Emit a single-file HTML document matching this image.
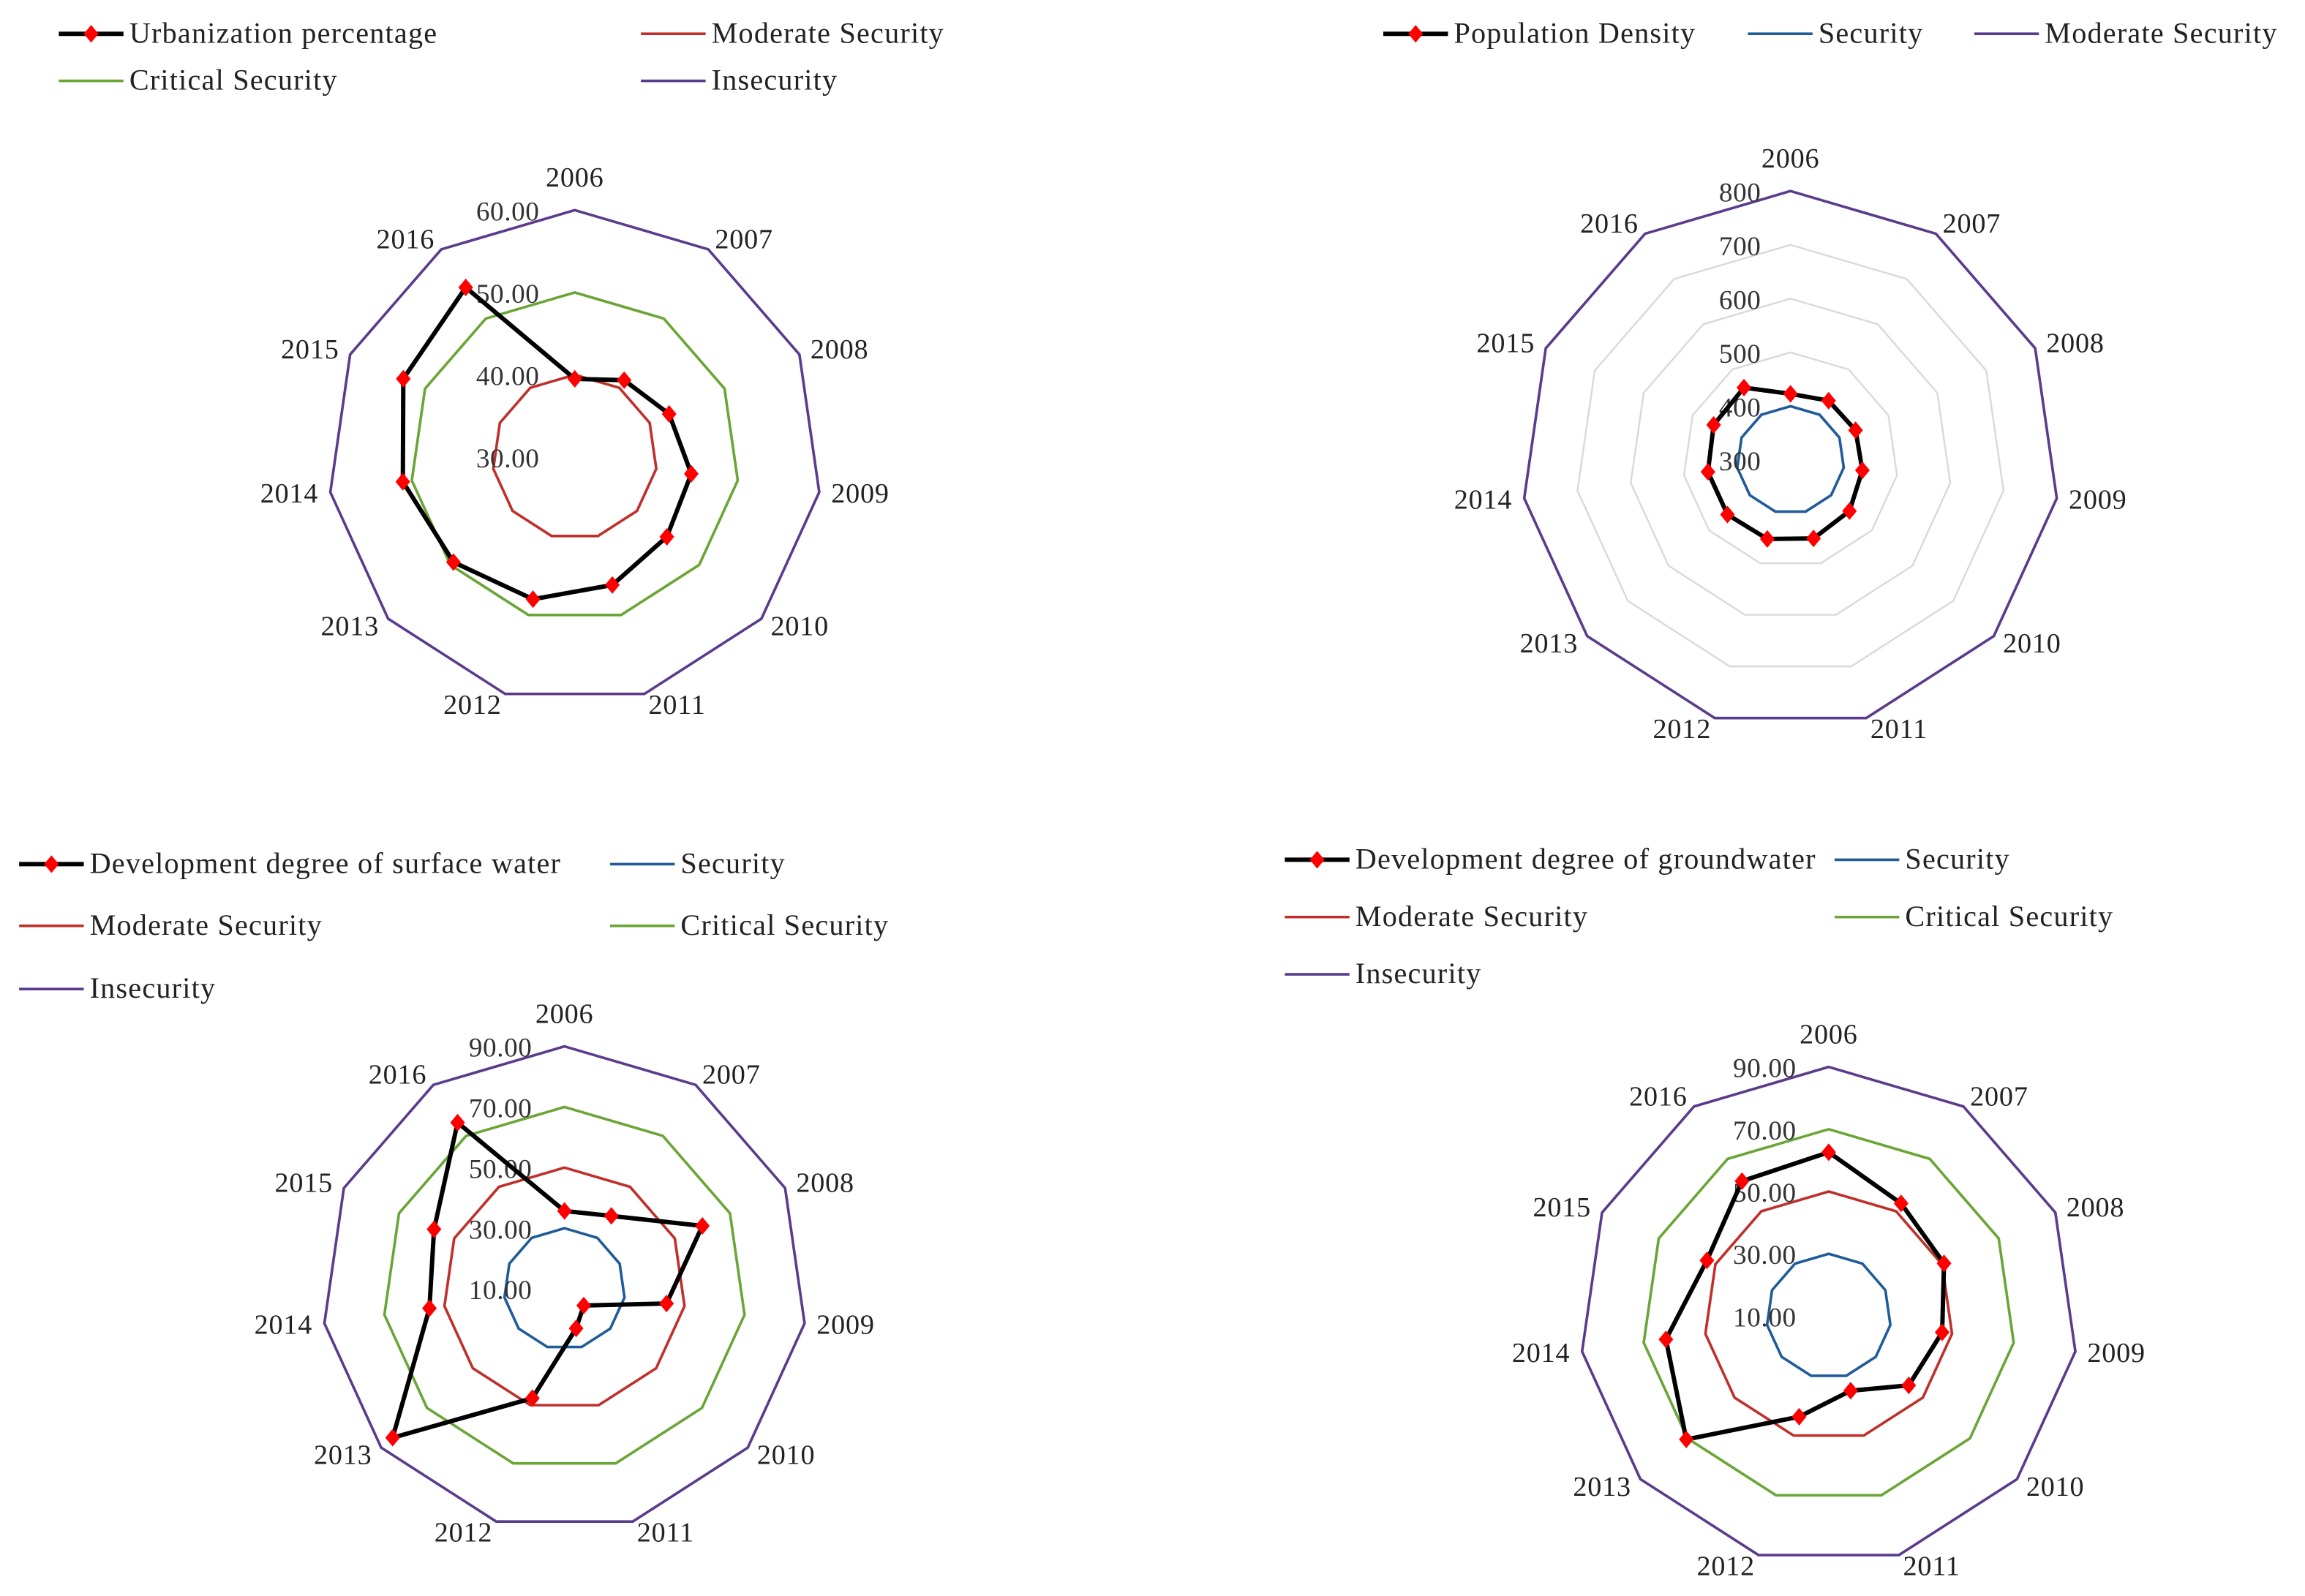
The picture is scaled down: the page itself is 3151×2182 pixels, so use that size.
<!DOCTYPE html>
<html><head><meta charset="utf-8"><style>
html,body{margin:0;padding:0;background:#fff;}
svg{display:block;font-family:"Liberation Serif",serif;}
</style></head><body>
<svg id="c" width="3151" height="2182" viewBox="0 0 1568 1086" preserveAspectRatio="none" xmlns="http://www.w3.org/2000/svg"></svg>
<script>
const years = ["2006","2007","2008","2009","2010","2011","2012","2013","2014","2015","2016"];
const urbanValues = [39.5,41.1,42.6,44.3,44.8,46.2,48.0,49.5,51.1,52.9,54.5];
const densityValues = [423,431,433,435,445,452,453,455,455,457,460];
const surfaceValues = [35.7,38.6,60,44,18.4,23.6,47.6,85,55,57.3,75.2];
const groundValues = [62.6,53,50.7,46.8,44,35,43.7,70.5,62.8,53,61.5];
const urbanTicks = [30,40,50,60];
const densityTicks = [300,400,500,600,700,800];
const surfaceTicks = [10,30,50,70,90];
const groundTicks = [10,30,50,70,90];

const svg = document.getElementById('c');
const NS = "http://www.w3.org/2000/svg";
function mk(tag, attrs, parent){const e=document.createElementNS(NS,tag);for(const k in attrs)e.setAttribute(k,attrs[k]);(parent||svg).appendChild(e);return e;}
const COL={sec:"#1f5c99",mod:"#c0302a",crit:"#6aa536",ins:"#5b3b8c",grid:"#d9d9d9"};

function chart(cfg){
  const g=mk('g',{});
  
  
  const n=years.length;
  const rad=v=>(v-cfg.min)/(cfg.max-cfg.min)*cfg.R;
  const pt=(i,v)=>{const a=i*2*Math.PI/n;const r=rad(v);return [cfg.cx+r*Math.sin(a),cfg.cy-r*Math.cos(a)];};
  cfg.grid.forEach(v=>{
    const p=mk('polygon',{points:years.map((y,i)=>pt(i,v).join(',')).join(' '),fill:'none',stroke:COL.grid,'stroke-width':1.2},g);
    
    
  });
  cfg.levels.forEach(l=>{
    const p=mk('polygon',{points:years.map((y,i)=>pt(i,l.v).join(',')).join(' '),fill:'none',stroke:l.c,'stroke-width':1.8},g);
    
    
  });
  cfg.ticks.forEach(v=>{
    const t=mk('text',{x:cfg.cx-cfg.tickOff,y:cfg.cy-rad(v)+7,'text-anchor':'end','font-size':18.5,'letter-spacing':0.3,fill:'#333'},g);
    t.textContent=cfg.fmt(v);
    
    
  });
  years.forEach((y,i)=>{
    const a=i*2*Math.PI/n;const s=Math.sin(a),c=Math.cos(a);
    const vx=cfg.cx+cfg.R*s, vy=cfg.cy-cfg.R*c;
    const dx = i===0?0:Math.sign(s)*(20+8*Math.abs(s));
    const dy = i===0?-22:-8*c;
    const t=mk('text',{x:vx+dx,y:vy+dy+6,'text-anchor':'middle','font-size':19,'letter-spacing':0.4,fill:'#222'},g);
    t.textContent=y;
    
    
  });
  const pts=cfg.data.map((v,i)=>pt(i,v));
  const s=mk('polygon',{points:pts.map(p=>p.join(',')).join(' '),fill:'none',stroke:'#000','stroke-width':3},g);
  
  
  pts.forEach((p,i)=>{
    const d=mk('polygon',{points:`${p[0]},${p[1]-6} ${p[0]+5},${p[1]} ${p[0]},${p[1]+6} ${p[0]-5},${p[1]}`,fill:'#ff0000'},g);
    
    
  });
  cfg.legend.forEach(L=>{
    const lg=mk('g',{},g);
    
    
    mk('line',{x1:L.x,y1:L.y,x2:L.x+44,y2:L.y,stroke:L.c,'stroke-width':L.main?3:1.8},lg);
    if(L.main) mk('polygon',{points:`${L.x+22},${L.y-6} ${L.x+27},${L.y} ${L.x+22},${L.y+6} ${L.x+17},${L.y}`,fill:'#ff0000'},lg);
    const t=mk('text',{x:L.x+48,y:L.y+6,'font-size':20,'letter-spacing':0.6,fill:'#222'},lg);
    t.textContent=L.t;
  });
}
const f2=v=>v.toFixed(2), f0=v=>String(v);
chart({name:'urbanization-radar',cx:391,cy:311,R:168,min:30,max:60,data:urbanValues,ticks:urbanTicks,fmt:f2,tickOff:24,grid:[],
 levels:[{v:40,c:COL.mod,name:'moderate-security'},{v:50,c:COL.crit,name:'critical-security'},{v:60,c:COL.ins,name:'insecurity'}],
 legend:[{x:40,y:23,c:'#000',main:true,t:'Urbanization percentage'},{x:436,y:23,c:COL.mod,t:'Moderate Security'},
 {x:40,y:55,c:COL.crit,t:'Critical Security'},{x:436,y:55,c:COL.ins,t:'Insecurity'}]});
chart({name:'population-density-radar',cx:1218,cy:313,R:183,min:300,max:800,data:densityValues,ticks:densityTicks,fmt:f0,tickOff:20,grid:[500,600,700],
 levels:[{v:400,c:COL.sec,name:'security'},{v:800,c:COL.ins,name:'insecurity'}],
 legend:[{x:941,y:23,c:'#000',main:true,t:'Population Density'},{x:1189,y:23,c:COL.sec,t:'Security'},{x:1343,y:23,c:COL.ins,t:'Moderate Security'}]});
chart({name:'surface-water-radar',cx:384,cy:877,R:165,min:10,max:90,data:surfaceValues,ticks:surfaceTicks,fmt:f2,tickOff:22,grid:[],
 levels:[{v:30,c:COL.sec,name:'security'},{v:50,c:COL.mod,name:'moderate-security'},{v:70,c:COL.crit,name:'critical-security'},{v:90,c:COL.ins,name:'insecurity'}],
 legend:[{x:13,y:588,c:'#000',main:true,t:'Development degree of surface water'},{x:415,y:588,c:COL.sec,t:'Security'},
 {x:13,y:630,c:COL.mod,t:' Moderate Security'},{x:415,y:630,c:COL.crit,t:'Critical Security'},{x:13,y:673,c:COL.ins,t:'Insecurity'}]});
chart({name:'groundwater-radar',cx:1244,cy:895.5,R:169.5,min:10,max:90,data:groundValues,ticks:groundTicks,fmt:f2,tickOff:22,grid:[],
 levels:[{v:30,c:COL.sec,name:'security'},{v:50,c:COL.mod,name:'moderate-security'},{v:70,c:COL.crit,name:'critical-security'},{v:90,c:COL.ins,name:'insecurity'}],
 legend:[{x:874,y:585,c:'#000',main:true,t:'Development degree of groundwater'},{x:1248,y:585,c:COL.sec,t:'Security'},
 {x:874,y:624,c:COL.mod,t:' Moderate Security'},{x:1248,y:624,c:COL.crit,t:'Critical Security'},{x:874,y:663,c:COL.ins,t:'Insecurity'}]});
</script>
</body></html>
